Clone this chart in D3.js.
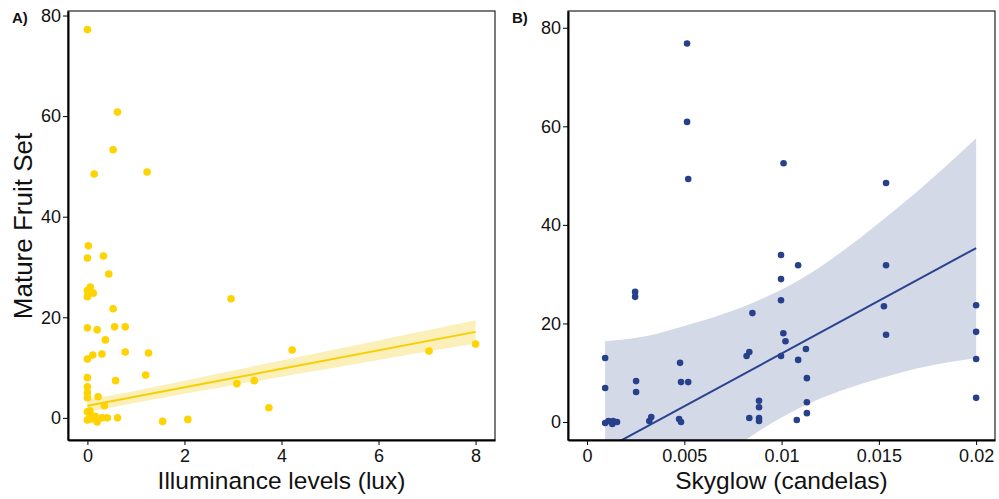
<!DOCTYPE html>
<html>
<head>
<meta charset="utf-8">
<script src="https://cdn.jsdelivr.net/npm/d3@7"></script>
<style>
  body { margin: 0; background: #fff; }
  text { font-family: "Liberation Sans", Arial, sans-serif; }
</style>
</head>
<body>
<div id="chart"></div>
<script>
// panel A: illuminance (lux) vs mature fruit set
const luxX = [0, 0.62, 0.53, 0.14, 1.23, 0.02, 0, 0.33, 0.44, 0.06, 0, 0.12, 0, 0.53, 0, 0.2, 0.56, 0.78,
    0.37, 0.78, 1.26, 0.3, 0.11, 0, 1.2, 0.58, 0, 0, 0, 0, 0.22, 0.35,
    0, 0.06, 0, 0.12, 0.2, 0.3, 0.41, 0.62, 0.16, 0.05, 0.08,
    1.55, 2.07, 2.96, 3.08, 3.44, 3.74, 4.22, 7.04, 8.0];
const luxY = [77.2, 60.8, 53.3, 48.5, 48.9, 34.2, 31.8, 32.2, 28.6, 26.0, 25.3, 24.8, 24.1, 21.7, 17.9, 17.5, 18.1, 18.1,
    15.5, 13.1, 12.9, 12.7, 12.5, 11.7, 8.5, 7.4, 8.0, 6.2, 5.0, 4.0, 4.2, 2.4,
    1.2, 0.6, -0.4, 0, -0.8, 0, 0, 0, 0.3, 1.4, -0.2,
    -0.7, -0.3, 23.7, 6.8, 7.4, 2.0, 13.5, 13.3, 14.7];
const luxFitX = [0, 8];
const luxFitY = [2.4, 17.1];
const luxBandX = [0, 1, 2, 3, 4, 5, 6, 7, 8];
const luxBandLo = [1.1, 3.0, 4.8, 6.5, 8.2, 9.8, 11.5, 13.2, 14.8];
const luxBandHi = [3.7, 5.4, 7.4, 9.4, 11.4, 13.4, 15.4, 17.4, 19.4];
const luxTicks = [0, 2, 4, 6, 8];

// panel B: skyglow (candelas) vs mature fruit set
const skyX = [0.00514, 0.00514, 0.0052, 0.0101, 0.01537, 0.00997, 0.01085, 0.01537, 0.00997, 0.00997, 0.01526, 0.02,
    0.0085, 0.01009, 0.0102, 0.01537, 0.02, 0.00834, 0.0082, 0.00997, 0.01125, 0.01085, 0.02, 0.0113,
    0.00884, 0.00884, 0.0113, 0.02, 0.0113, 0.00834, 0.00884, 0.00884, 0.01078,
    0.00247, 0.00247, 0.00093, 0.00478, 0.00252, 0.00483, 0.0052, 0.00093, 0.00252,
    0.00093, 0.0011, 0.00134, 0.0013, 0.00154, 0.0033, 0.0032, 0.00473, 0.00483];
const skyY = [76.8, 60.9, 49.3, 52.5, 48.5, 33.9, 31.8, 31.8, 29.0, 24.7, 23.5, 23.7,
    22.1, 18.0, 16.4, 17.7, 18.3, 14.2, 13.4, 13.4, 14.8, 12.6, 12.8, 8.9,
    4.3, 3.0, 4.0, 4.9, 1.8, 0.8, 0.8, 0.2, 0.4,
    26.4, 25.4, 13.0, 12.0, 8.3, 8.1, 8.1, 6.9, 6.1,
    -0.2, 0.2, 0.2, -0.4, 0, 1.0, 0.2, 0.6, 0];
const skyFitX = [0.00093, 0.02];
const skyFitY = [-5.5, 35.3];
const skyBandX = [0.00093, 0.003, 0.005, 0.007, 0.009, 0.011, 0.013, 0.015, 0.017, 0.02];
const skyBandLo = [-26.5, -19.6, -13.1, -6.9, -1.4, 3.0, 6.3, 8.8, 10.9, 13.0];
const skyBandHi = [16.4, 17.4, 19.5, 21.9, 25.0, 29.0, 34.3, 40.4, 46.9, 57.6];
const skyTicks = [0, 0.005, 0.01, 0.015, 0.02];

const fruitTicks = [0, 20, 40, 60, 80];

const width = 999, height = 499;

let svg = d3.select("#chart")
    .append("svg")
    .attr("width", width)
    .attr("height", height);

let drawPanel = function (p) {
    let x = d3.scaleLinear().domain(p.xDomain).range([p.left, p.right]);
    let y = d3.scaleLinear().domain(p.yDomain).range([440, 11]);

    let g = svg.append("g");

    g.append("clipPath")
        .attr("id", p.id + "clip")
        .append("rect")
        .attr("x", p.left).attr("y", 11)
        .attr("width", p.right - p.left).attr("height", 429);

    let plot = g.append("g").attr("clip-path", "url(#" + p.id + "clip)");

    let band = p.bandX.map((d, i) => ({ x: d, lo: p.bandLo[i], hi: p.bandHi[i] }));
    plot.append("path")
        .datum(band)
        .attr("fill", p.bandColor)
        .attr("d", d3.area()
            .curve(d3.curveMonotoneX)
            .x(d => x(d.x))
            .y0(d => y(d.lo))
            .y1(d => y(d.hi)));

    plot.selectAll("circle")
        .data(p.xs.map((d, i) => [d, p.ys[i]]))
        .enter()
        .append("circle")
        .attr("cx", d => x(d[0]))
        .attr("cy", d => y(d[1]))
        .attr("r", p.r)
        .attr("fill", p.color);

    plot.append("path")
        .datum(p.fitX.map((d, i) => [d, p.fitY[i]]))
        .attr("fill", "none")
        .attr("stroke", p.lineColor)
        .attr("stroke-width", 2)
        .attr("d", d3.line().x(d => x(d[0])).y(d => y(d[1])));

    // box
    g.append("rect")
        .attr("x", p.left).attr("y", 11)
        .attr("width", p.right - p.left).attr("height", 429)
        .attr("fill", "none")
        .attr("stroke", "#222")
        .attr("stroke-width", 1.2);

    let xAxis = g.append("g")
        .attr("transform", "translate(0,440)")
        .call(d3.axisBottom(x).tickValues(p.xTicks).tickFormat(d => String(d)).tickSize(5).tickSizeOuter(0));
    let yAxis = g.append("g")
        .attr("transform", "translate(" + p.left + ",0)")
        .call(d3.axisLeft(y).tickValues(fruitTicks).tickSize(5).tickSizeOuter(0));

    [xAxis, yAxis].forEach(a => {
        a.select(".domain").attr("stroke", "#000").attr("stroke-width", 2);
        a.selectAll(".tick line").attr("stroke", "#000").attr("stroke-width", 1);
        a.selectAll(".tick text")
            .attr("fill", "#111")
            .style("font-size", "18px")
            .style("font-family", "'Liberation Sans', Arial, sans-serif");
    });
    xAxis.selectAll(".tick text").attr("dy", "0.9em").attr("y", 6);
    yAxis.selectAll(".tick text").attr("x", -7);

    g.append("text")
        .attr("x", (p.left + p.right) / 2)
        .attr("y", 489)
        .attr("text-anchor", "middle")
        .style("font-size", "24.5px")
        .attr("fill", "#111")
        .text(p.xTitle);

    g.append("text")
        .attr("x", p.labelX)
        .attr("y", 23)
        .style("font-size", "15px")
        .style("font-weight", "bold")
        .attr("fill", "#111")
        .text(p.label);
};

drawPanel({
    id: "a", left: 68, right: 495,
    xDomain: [-0.4, 8.4], yDomain: [-4.4, 80.9],
    xs: luxX, ys: luxY, fitX: luxFitX, fitY: luxFitY,
    bandX: luxBandX, bandLo: luxBandLo, bandHi: luxBandHi,
    xTicks: luxTicks, r: 3.8,
    color: "#FFD300", lineColor: "#F7CF00", bandColor: "#FBF0BA",
    xTitle: "Illuminance levels (lux)", label: "A)", labelX: 12
});

drawPanel({
    id: "b", left: 568, right: 995,
    xDomain: [-0.00098, 0.02097], yDomain: [-3.65, 83.4],
    xs: skyX, ys: skyY, fitX: skyFitX, fitY: skyFitY,
    bandX: skyBandX, bandLo: skyBandLo, bandHi: skyBandHi,
    xTicks: skyTicks, r: 3.3,
    color: "#27408B", lineColor: "#2A4390", bandColor: "#D3D9E7",
    xTitle: "Skyglow (candelas)", label: "B)", labelX: 512
});

svg.append("text")
    .attr("transform", "translate(32,226) rotate(-90)")
    .attr("text-anchor", "middle")
    .style("font-size", "26px")
    .attr("fill", "#111")
    .text("Mature Fruit Set");
</script>
</body>
</html>
